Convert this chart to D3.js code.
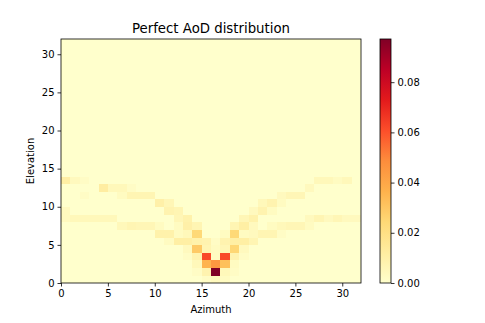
<!DOCTYPE html>
<html>
<head>
<meta charset="utf-8">
<script src="https://cdn.jsdelivr.net/npm/d3@7"></script>
<style>
  body { margin: 0; background: #fff; }
  text { font-family: "DejaVu Sans", sans-serif; fill: #000; }
  .axis path, .axis line { stroke: #000; stroke-width: 0.8; }
</style>
</head>
<body>
<svg id="chart" width="485" height="323"></svg>
<script>
// bins on each axis (32 x 32 grid)
var azimuthBins = d3.range(32);
var elevationBins = d3.range(32);
var xTicks = [0, 5, 10, 15, 20, 25, 30];
var yTicks = [0, 5, 10, 15, 20, 25, 30];
var cbTicks = [0, 0.02, 0.04, 0.06, 0.08];
var vmax = 0.0972;

// non-zero cells: [azimuth, elevation, value]
var cells = [
  [15,0,0.002],[16,0,0.004],[17,0,0.003],
  [14,1,0.002],[15,1,0.008],[16,1,0.0972],[17,1,0.005],[18,1,0.002],
  [14,2,0.005],[15,2,0.036],[16,2,0.045],[17,2,0.032],[18,2,0.003],
  [13,3,0.002],[14,3,0.008],[15,3,0.062],[16,3,0.003],[17,3,0.062],[18,3,0.008],[19,3,0.002],
  [13,4,0.004],[14,4,0.029],[15,4,0.007],[16,4,0.003],[17,4,0.006],[18,4,0.025],[19,4,0.004],
  [11,5,0.003],[12,5,0.011],[13,5,0.011],[14,5,0.009],[15,5,0.008],[16,5,0.002],[17,5,0.008],[18,5,0.011],[19,5,0.011],[20,5,0.007],
  [10,6,0.009],[11,6,0.009],[12,6,0.003],[13,6,0.005],[14,6,0.024],[17,6,0.003],[18,6,0.024],[19,6,0.003],[20,6,0.004],[21,6,0.007],[22,6,0.007],[23,6,0.002],
  [6,7,0.005],[7,7,0.007],[8,7,0.006],[9,7,0.006],[10,7,0.003],[12,7,0.003],[13,7,0.010],[14,7,0.007],[18,7,0.007],[19,7,0.011],[20,7,0.004],[22,7,0.003],[23,7,0.005],[24,7,0.006],[25,7,0.006],[26,7,0.003],
  [0,8,0.004],[1,8,0.005],[2,8,0.005],[3,8,0.005],[4,8,0.005],[5,8,0.005],[12,8,0.006],[13,8,0.009],[19,8,0.006],[20,8,0.009],[26,8,0.004],[27,8,0.007],[28,8,0.004],[29,8,0.006],[30,8,0.004],[31,8,0.004],
  [0,9,0.004],[11,9,0.008],[12,9,0.007],[20,9,0.004],[21,9,0.008],[22,9,0.003],
  [10,10,0.010],[11,10,0.006],[21,10,0.005],[22,10,0.008],[23,10,0.003],
  [2,11,0.002],[6,11,0.003],[7,11,0.007],[8,11,0.007],[9,11,0.007],[23,11,0.004],[24,11,0.006],[25,11,0.006],
  [4,12,0.012],[5,12,0.005],[6,12,0.005],[7,12,0.002],[26,12,0.004],
  [0,13,0.011],[1,13,0.004],[2,13,0.002],[27,13,0.005],[28,13,0.005],[29,13,0.003],[30,13,0.005]
];

var svg = d3.select('#chart');
var margin = { top: 39, left: 61 },
    width = 300,
    height = 244;

var g = svg.append('g')
  .attr('transform', 'translate(' + margin.left + ',' + margin.top + ')');

var x = d3.scaleLinear().domain([0, 32]).range([0, width]),
    y = d3.scaleLinear().domain([0, 32]).range([height, 0]);

// matplotlib YlOrRd stops
var ylorrd = ['#ffffcc','#ffeda0','#fed976','#feb24c','#fd8d3c','#fc4e2a','#e31a1c','#bd0026','#800026'];
var color = d3.scaleLinear()
  .domain(ylorrd.map(function(c, i) { return vmax * i / (ylorrd.length - 1); }))
  .range(ylorrd)
  .clamp(true);

// full grid, zero where nothing was read
var lookup = {};
cells.forEach(function(c) { lookup[c[0] + '_' + c[1]] = c[2]; });
var grid = [];
elevationBins.forEach(function(e) {
  azimuthBins.forEach(function(a) {
    grid.push({ az: a, el: e, value: lookup[a + '_' + e] || 0 });
  });
});

g.selectAll('rect.cell')
  .data(grid)
  .enter()
  .append('rect')
  .attr('class', 'cell')
  .attr('x', function(d) { return x(d.az); })
  .attr('y', function(d) { return y(d.el + 1); })
  .attr('width', x(1) - x(0) + 0.3)
  .attr('height', y(0) - y(1) + 0.3)
  .attr('shape-rendering', 'crispEdges')
  .style('fill', function(d) { return color(d.value); });

// axes
g.append('g')
  .attr('class', 'axis')
  .attr('transform', 'translate(0,' + height + ')')
  .call(d3.axisBottom(x).tickValues(xTicks).tickSize(3.5).tickPadding(3))
  .call(function(a) { a.select('.domain').remove(); })
  .selectAll('text').style('font-size', '10px');

g.append('g')
  .attr('class', 'axis')
  .call(d3.axisLeft(y).tickValues(yTicks).tickSize(3.5).tickPadding(3))
  .call(function(a) { a.select('.domain').remove(); })
  .selectAll('text').style('font-size', '10px');

g.append('rect')
  .attr('width', width)
  .attr('height', height)
  .style('fill', 'none')
  .style('stroke', '#000')
  .style('stroke-width', 0.8);

// labels
svg.append('text')
  .attr('x', margin.left + width / 2)
  .attr('y', 32.5)
  .attr('text-anchor', 'middle')
  .style('font-size', '13.3px')
  .text('Perfect AoD distribution');

svg.append('text')
  .attr('x', margin.left + width / 2)
  .attr('y', 313)
  .attr('text-anchor', 'middle')
  .style('font-size', '10px')
  .text('Azimuth');

svg.append('text')
  .attr('transform', 'translate(34,' + (margin.top + height / 2) + ') rotate(-90)')
  .attr('text-anchor', 'middle')
  .style('font-size', '10px')
  .text('Elevation');

// colorbar
var cbX = 380, cbW = 11;
var cy = d3.scaleLinear().domain([0, vmax]).range([margin.top + height, margin.top]);
var defs = svg.append('defs');
var grad = defs.append('linearGradient')
  .attr('id', 'cbgrad')
  .attr('x1', 0).attr('y1', 1).attr('x2', 0).attr('y2', 0);
grad.selectAll('stop')
  .data(ylorrd)
  .enter()
  .append('stop')
  .attr('offset', function(d, i) { return i / (ylorrd.length - 1); })
  .attr('stop-color', function(d) { return d; });

svg.append('rect')
  .attr('x', cbX)
  .attr('y', cy(vmax))
  .attr('width', cbW)
  .attr('height', cy(0) - cy(vmax))
  .style('fill', 'url(#cbgrad)')
  .style('stroke', '#000')
  .style('stroke-width', 0.8);

svg.append('g')
  .attr('class', 'axis')
  .attr('transform', 'translate(' + (cbX + cbW) + ',0)')
  .call(d3.axisRight(cy).tickValues(cbTicks).tickFormat(d3.format('.2f')).tickSize(3.5).tickPadding(3))
  .call(function(a) { a.select('.domain').remove(); })
  .selectAll('text').style('font-size', '10px');
</script>
</body>
</html>
